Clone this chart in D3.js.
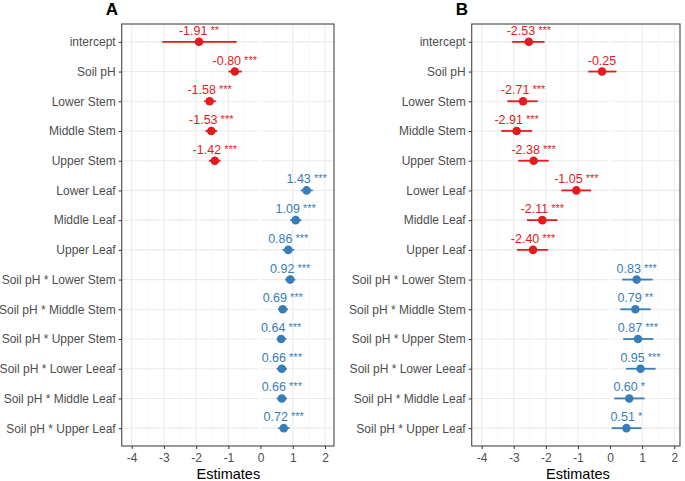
<!DOCTYPE html>
<html><head><meta charset="utf-8">
<script src="https://cdn.jsdelivr.net/npm/d3@7"></script>
<style>body{margin:0;background:#fff}svg{display:block}text{font-family:"Liberation Sans",Arial,sans-serif}</style>
</head><body><svg id="c" width="685" height="481"></svg>
<script>
const terms = ["intercept","Soil pH","Lower Stem","Middle Stem","Upper Stem","Lower Leaf","Middle Leaf","Upper Leaf",
  "Soil pH * Lower Stem","Soil pH * Middle Stem","Soil pH * Upper Stem","Soil pH * Lower Leeaf","Soil pH * Middle Leaf","Soil pH * Upper Leaf"];
const estA = [-1.91,-0.80,-1.58,-1.53,-1.42,1.43,1.09,0.86,0.92,0.69,0.64,0.66,0.66,0.72];
const lowA = [-3.05,-1.00,-1.75,-1.71,-1.60,1.25,0.92,0.68,0.76,0.54,0.50,0.50,0.50,0.55];
const highA= [-0.74,-0.58,-1.39,-1.35,-1.24,1.62,1.27,1.04,1.08,0.85,0.80,0.82,0.82,0.90];
const starsA=["**","***","***","***","***","***","***","***","***","***","***","***","***","***"];
const estB = [-2.53,-0.25,-2.71,-2.91,-2.38,-1.05,-2.11,-2.40,0.83,0.79,0.87,0.95,0.60,0.51];
const lowB = [-3.05,-0.68,-3.20,-3.39,-2.86,-1.52,-2.59,-2.90,0.38,0.32,0.41,0.50,0.13,0.05];
const highB= [-2.04,0.20,-2.25,-2.43,-1.91,-0.59,-1.64,-1.93,1.33,1.27,1.35,1.42,1.08,0.98];
const starsB=["***","","***","***","***","***","***","***","***","**","***","***","*","*"];
const xTicks = [-4,-3,-2,-1,0,1,2];
const xLabel = "Estimates";
const RED="#e41a1c", BLUE="#377eb8";

const svg = d3.select("#c");

function panel(opt){
  const {left,right,top,bottom,domain,est,low,high,stars,title,titleX} = opt;
  const g = svg.append("g");
  const x = d3.scaleLinear().domain(domain).range([left,right]);
  const y = d3.scalePoint().domain(terms).range([top,bottom]).padding(0.6);
  const minor = d3.range(-4.5,2.6,1);
  g.selectAll(".mn").data(minor.filter(v=>v>domain[0]&&v<domain[1])).join("line")
    .attr("x1",d=>x(d)).attr("x2",d=>x(d)).attr("y1",top).attr("y2",bottom)
    .attr("stroke","#f3f3f3").attr("stroke-width",0.6);
  g.selectAll(".mj").data(xTicks).join("line")
    .attr("x1",d=>x(d)).attr("x2",d=>x(d)).attr("y1",top).attr("y2",bottom)
    .attr("stroke","#ebebeb").attr("stroke-width",1.1);
  g.selectAll(".hy").data(terms).join("line")
    .attr("x1",left).attr("x2",right).attr("y1",d=>y(d)).attr("y2",d=>y(d))
    .attr("stroke","#ebebeb").attr("stroke-width",1.1);
  g.append("line").attr("x1",x(0)).attr("x2",x(0)).attr("y1",top).attr("y2",bottom)
    .attr("stroke","#fff").attr("stroke-width",2.5);
  g.append("rect").attr("x",left).attr("y",top).attr("width",right-left).attr("height",bottom-top)
    .attr("fill","none").attr("stroke","#555").attr("stroke-width",1.2);
  const ax = d3.axisBottom(x).tickValues(xTicks).tickSize(3).tickPadding(4).tickFormat(d3.format("d"));
  const gx = g.append("g").attr("transform",`translate(0,${bottom})`).call(ax);
  gx.select(".domain").remove();
  gx.selectAll("line").attr("stroke","#333");
  gx.selectAll("text").attr("fill","#4d4d4d").attr("font-size",12).text(d=>d<0?"-"+Math.abs(d):d);
  const ay = d3.axisLeft(y).tickSize(3).tickPadding(3);
  const gy = g.append("g").attr("transform",`translate(${left},0)`).call(ay);
  gy.select(".domain").remove();
  gy.selectAll("line").attr("stroke","#333");
  gy.selectAll("text").attr("fill","#4d4d4d").attr("font-size",12);
  const data = terms.map((t,i)=>({t,e:est[i],lo:low[i],hi:high[i],s:stars[i]}));
  const col = d=>d.e<0?RED:BLUE;
  g.selectAll(".ci").data(data).join("line")
    .attr("x1",d=>x(d.lo)).attr("x2",d=>x(d.hi)).attr("y1",d=>y(d.t)).attr("y2",d=>y(d.t))
    .attr("stroke",col).attr("stroke-width",1.8);
  g.selectAll(".pt").data(data).join("circle")
    .attr("cx",d=>x(d.e)).attr("cy",d=>y(d.t)).attr("r",4.3).attr("fill",col);
  const lab = g.selectAll(".lb").data(data).join("text")
    .attr("x",d=>x(d.e)).attr("y",d=>y(d.t)-7).attr("text-anchor","middle")
    .attr("fill",col).attr("font-size",12.5);
  lab.append("tspan").text(d=>d.e.toFixed(2));
  lab.append("tspan").attr("font-size",11).attr("dy",-1).text(d=>d.s?" "+d.s:"");
  g.append("text").attr("x",(x(-4)+x(2))/2).attr("y",479).attr("text-anchor","middle")
    .attr("fill","#000").attr("font-size",14.5).text(xLabel);
  g.append("text").attr("x",titleX).attr("y",15).attr("text-anchor","middle")
    .attr("font-weight","bold").attr("font-size",17).attr("fill","#000").text(title);
}

panel({left:121.7,right:334,top:24,bottom:446,domain:[-4.31,2.28],est:estA,low:lowA,high:highA,stars:starsA,title:"A",titleX:112});
panel({left:471.7,right:680,top:24,bottom:446,domain:[-4.31,2.18],est:estB,low:lowB,high:highB,stars:starsB,title:"B",titleX:462});
</script></body></html>
